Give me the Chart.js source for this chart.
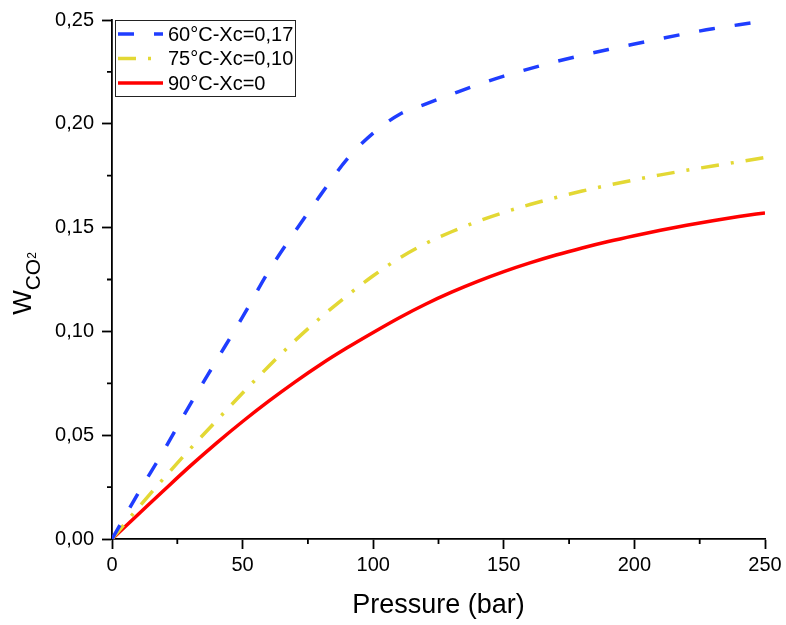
<!DOCTYPE html>
<html>
<head>
<meta charset="utf-8">
<title>W CO2 vs pressure</title>
<script src="https://cdn.jsdelivr.net/npm/chart.js@4.4.1/dist/chart.umd.min.js"></script>
<style>
  html, body { margin: 0; padding: 0; background: #fff; }
  canvas { display: block; }
</style>
</head>
<body>
<canvas id="grafico" width="786" height="625"></canvas>
<script>
// datos
const presion = [0, 10, 20, 30, 40, 50, 60, 70, 80, 90, 100, 110, 120, 130, 140, 150, 160, 170, 180, 190, 200, 210, 220, 230, 240, 250];
const w60 = [0, 0.022, 0.043, 0.065, 0.086, 0.107, 0.129, 0.148, 0.166, 0.183, 0.1955, 0.2045, 0.2095, 0.2142, 0.2188, 0.223, 0.2266, 0.230, 0.233, 0.2358, 0.2384, 0.241, 0.2435, 0.2458, 0.2477, 0.2495];
const w75 = [0, 0.0150, 0.0295, 0.0435, 0.0570, 0.0703, 0.0832, 0.0955, 0.1068, 0.1172, 0.1268, 0.1353, 0.1423, 0.1480, 0.1530, 0.1573, 0.1611, 0.1645, 0.1676, 0.1704, 0.1730, 0.1754, 0.1776, 0.1797, 0.1817, 0.1838];
const w90 = [0, 0.0118, 0.0236, 0.0352, 0.0462, 0.0566, 0.0664, 0.0756, 0.0842, 0.0921, 0.0995, 0.1066, 0.1131, 0.1189, 0.1241, 0.1288, 0.1330, 0.1368, 0.1402, 0.1433, 0.1461, 0.1487, 0.1511, 0.1533, 0.1553, 0.1571];
const etiquetas = ["60°C-Xc=0,17", "75°C-Xc=0,10", "90°C-Xc=0"];
const ticksX = [0, 50, 100, 150, 200, 250];
const ticksY = [0, 0.05, 0.10, 0.15, 0.20, 0.25];

const FUENTE = "'Liberation Sans', Arial, sans-serif";

const puntos = (ys) => presion.map((p, i) => ({x: p, y: ys[i]}));

// ticks menores (25 bar, 0.025)
const ticksMenores = {
    id: 'ticksMenores',
    afterDraw(chart) {
        const {ctx, scales: {x, y}} = chart;
        ctx.save();
        ctx.strokeStyle = '#000';
        ctx.lineWidth = 1.8;
        ctx.beginPath();
        for (let i = 0; i < ticksX.length - 1; i++) {
            const px = x.getPixelForValue((ticksX[i] + ticksX[i + 1]) / 2);
            ctx.moveTo(px, y.bottom);
            ctx.lineTo(px, y.bottom + 5);
        }
        for (let i = 0; i < ticksY.length - 1; i++) {
            const py = y.getPixelForValue((ticksY[i] + ticksY[i + 1]) / 2);
            ctx.moveTo(x.left, py);
            ctx.lineTo(x.left - 5, py);
        }
        ctx.stroke();
        ctx.restore();
    }
};

// titulo eje Y con subindice
const tituloY = {
    id: 'tituloY',
    afterDraw(chart) {
        const ctx = chart.ctx;
        ctx.save();
        ctx.fillStyle = '#000';
        ctx.textBaseline = 'alphabetic';
        ctx.textAlign = 'left';
        ctx.font = `26px ${FUENTE}`;
        const wW = ctx.measureText('W').width;
        ctx.font = `21px ${FUENTE}`;
        const wCO = ctx.measureText('CO').width;
        ctx.font = `12px ${FUENTE}`;
        const w2 = ctx.measureText('2').width;
        const total = wW + wCO + w2;
        const centro = (chart.chartArea.top + chart.chartArea.bottom) / 2 + 4;
        ctx.translate(0, centro + total / 2);
        ctx.rotate(-Math.PI / 2);
        ctx.font = `26px ${FUENTE}`;
        ctx.fillText('W', 0, 31);
        ctx.font = `21px ${FUENTE}`;
        ctx.fillText('CO', wW, 40);
        ctx.font = `12px ${FUENTE}`;
        ctx.fillText('2', wW + wCO, 36);
        ctx.restore();
    }
};

// leyenda con recuadro dentro del area
const leyenda = {
    id: 'leyenda',
    afterDraw(chart) {
        const ctx = chart.ctx;
        const x0 = chart.chartArea.left + 3;
        const y0 = chart.chartArea.top;
        ctx.save();
        ctx.fillStyle = '#fff';
        ctx.fillRect(x0, y0, 180, 76);
        ctx.strokeStyle = '#222';
        ctx.lineWidth = 1;
        ctx.strokeRect(x0 + 0.5, y0 + 0.5, 180, 76);
        chart.data.datasets.forEach((ds, i) => {
            const yy = y0 + 14 + i * 24.5;
            ctx.strokeStyle = ds.borderColor;
            ctx.lineWidth = ds.borderWidth;
            ctx.setLineDash(ds.borderDash || []);
            ctx.beginPath();
            ctx.moveTo(x0 + 3, yy);
            ctx.lineTo(x0 + 48, yy);
            ctx.stroke();
            ctx.setLineDash([]);
            ctx.fillStyle = '#000';
            ctx.font = `20px ${FUENTE}`;
            ctx.textBaseline = 'middle';
            ctx.fillText(ds.label, x0 + 53, yy + 1);
        });
        ctx.restore();
    }
};

const ctx = document.getElementById('grafico').getContext('2d');

const grafico = new Chart(ctx, {
    type: 'line',
    data: {
        datasets: [
            {
                label: etiquetas[0],
                data: puntos(w60),
                borderColor: '#1f3dff',
                borderWidth: 3.5,
                borderDash: [16, 20],
                pointRadius: 0,
                cubicInterpolationMode: 'monotone'
            },
            {
                label: etiquetas[1],
                data: puntos(w75),
                borderColor: '#e3d834',
                borderWidth: 3.5,
                borderDash: [18, 12, 3, 12],
                pointRadius: 0,
                cubicInterpolationMode: 'monotone'
            },
            {
                label: etiquetas[2],
                data: puntos(w90),
                borderColor: '#ff0000',
                borderWidth: 3.5,
                pointRadius: 0,
                cubicInterpolationMode: 'monotone'
            }
        ]
    },
    options: {
        responsive: false,
        animation: false,
        layout: {
            padding: {top: 19, right: 21, left: 0, bottom: 0}
        },
        plugins: {
            legend: {display: false},
            tooltip: {enabled: false}
        },
        scales: {
            x: {
                type: 'linear',
                min: 0,
                max: 250,
                afterBuildTicks: (scale) => { scale.ticks = ticksX.map(v => ({value: v})); },
                afterFit: (scale) => { scale.height = 86; },
                border: {display: true, color: '#000', width: 1.8},
                grid: {drawOnChartArea: false, drawTicks: true, tickLength: 10, tickColor: '#000', tickWidth: 1.8},
                ticks: {
                    color: '#000',
                    font: {family: FUENTE, size: 20},
                    padding: 4,
                    maxRotation: 0,
                    callback: (v) => String(v)
                },
                title: {
                    display: true,
                    text: 'Pressure (bar)',
                    color: '#000',
                    font: {family: FUENTE, size: 27},
                    padding: {top: 0, bottom: 3}
                }
            },
            y: {
                type: 'linear',
                min: 0,
                max: 0.25,
                afterBuildTicks: (scale) => { scale.ticks = ticksY.map(v => ({value: v})); },
                afterFit: (scale) => { scale.width = 112; },
                border: {display: true, color: '#000', width: 1.8},
                grid: {drawOnChartArea: false, drawTicks: true, tickLength: 10, tickColor: '#000', tickWidth: 1.8},
                ticks: {
                    color: '#000',
                    font: {family: FUENTE, size: 20},
                    padding: 8,
                    callback: (v) => v.toFixed(2).replace('.', ',')
                }
            }
        }
    },
    plugins: [ticksMenores, tituloY, leyenda]
});
</script>
</body>
</html>
